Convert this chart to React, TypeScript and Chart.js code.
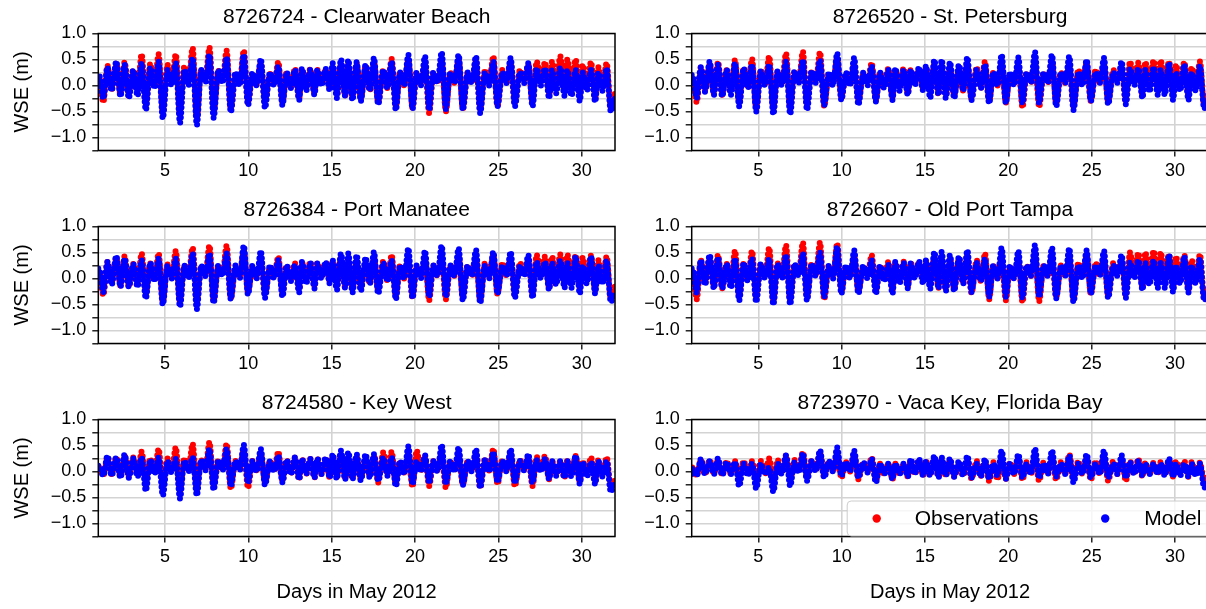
import React, { useEffect, useRef } from "react";
import { Chart, registerables } from "chart.js";

Chart.register(...registerables);

const FONT = "'Liberation Sans', Arial, sans-serif";

// Sample times (days in May 2012) of the tidal turning points
const TIMES = [
  1.0,
  1.05, 1.30, 1.55, 1.80,
  2.08, 2.33, 2.58, 2.83,
  3.10, 3.35, 3.60, 3.85,
  4.12, 4.37, 4.62, 4.87,
  5.15, 5.40, 5.65, 5.90,
  6.16, 6.41, 6.66, 6.91,
  7.17, 7.42, 7.67, 7.92,
  8.20, 8.45, 8.70, 8.95,
  9.23, 9.48, 9.73, 9.98,
  10.25, 10.50, 10.75, 11.00,
  11.30, 11.55, 11.80, 12.05,
  12.30, 12.55, 12.80, 13.05,
  13.22, 13.47, 13.72, 13.97,
  14.14, 14.39, 14.64, 14.89,
  15.06, 15.31, 15.56, 15.81,
  16.00, 16.25, 16.50, 16.75,
  17.04, 17.29, 17.54, 17.79,
  18.10, 18.35, 18.60, 18.85,
  19.10, 19.35, 19.60, 19.85,
  20.10, 20.35, 20.60, 20.85,
  21.10, 21.35, 21.60, 21.85,
  22.12, 22.37, 22.62, 22.87,
  23.16, 23.41, 23.66, 23.91,
  24.20, 24.45, 24.70, 24.95,
  25.24, 25.49, 25.74, 25.99,
  26.30, 26.55, 26.80, 27.05,
  27.30, 27.55, 27.80, 28.05,
  28.22, 28.47, 28.72, 28.97,
  29.14, 29.39, 29.64, 29.89,
  30.06, 30.31, 30.56, 30.81,
  31.00, 31.25, 31.50, 31.75,
  32.0,
];

// 8726724 - Clearwater Beach
const CLEARWATER_OBS = [
  0.10,
  0.15, -0.32, 0.38, -0.08,
  0.43, -0.18, 0.45, -0.20,
  0.30, -0.08, 0.60, -0.38,
  0.42, 0.00, 0.60, -0.50,
  0.40, 0.05, 0.60, -0.56,
  0.37, 0.10, 0.72, -0.62,
  0.30, 0.12, 0.73, -0.50,
  0.28, 0.10, 0.67, -0.47,
  0.22, 0.05, 0.67, -0.34,
  0.20, 0.02, 0.43, -0.32,
  0.22, 0.05, 0.45, -0.32,
  0.25, -0.05, 0.33, -0.25,
  0.30, 0.00, 0.32, -0.15,
  0.30, 0.05, 0.30, -0.05,
  0.35, -0.05, 0.40, -0.20,
  0.40, -0.20, 0.42, -0.25,
  0.38, -0.10, 0.45, -0.33,
  0.30, -0.05, 0.51, -0.40,
  0.25, 0.00, 0.50, -0.43,
  0.25, 0.05, 0.45, -0.53,
  0.25, 0.05, 0.46, -0.50,
  0.25, 0.05, 0.50, -0.45,
  0.25, 0.05, 0.50, -0.47,
  0.30, 0.05, 0.56, -0.40,
  0.30, 0.05, 0.45, -0.35,
  0.30, 0.10, 0.40, -0.33,
  0.46, 0.10, 0.45, -0.20,
  0.46, 0.05, 0.56, -0.10,
  0.50, 0.05, 0.50, -0.20,
  0.40, 0.00, 0.45, -0.25,
  0.35, 0.00, 0.43, -0.42,
  -0.15,
];
const CLEARWATER_MOD = [
  0.14,
  0.20, -0.25, 0.35, -0.10,
  0.46, -0.21, 0.40, -0.24,
  0.30, -0.20, 0.43, -0.47,
  0.35, -0.05, 0.46, -0.63,
  0.30, 0.00, 0.43, -0.72,
  0.30, 0.00, 0.53, -0.76,
  0.30, 0.05, 0.59, -0.62,
  0.30, 0.05, 0.54, -0.51,
  0.25, 0.00, 0.59, -0.38,
  0.25, 0.00, 0.51, -0.43,
  0.25, 0.00, 0.37, -0.38,
  0.25, -0.05, 0.30, -0.28,
  0.33, -0.10, 0.30, -0.18,
  0.30, 0.00, 0.32, -0.10,
  0.43, -0.24, 0.50, -0.20,
  0.49, -0.28, 0.45, -0.30,
  0.40, -0.10, 0.53, -0.36,
  0.30, -0.05, 0.46, -0.47,
  0.25, 0.00, 0.59, -0.45,
  0.25, 0.00, 0.56, -0.47,
  0.25, 0.05, 0.64, -0.45,
  0.25, 0.05, 0.59, -0.47,
  0.25, 0.05, 0.56, -0.53,
  0.25, 0.00, 0.46, -0.40,
  0.25, 0.05, 0.53, -0.40,
  0.25, 0.05, 0.43, -0.40,
  0.33, 0.00, 0.33, -0.24,
  0.30, -0.15, 0.35, -0.20,
  0.30, -0.20, 0.30, -0.30,
  0.25, -0.10, 0.30, -0.31,
  0.25, -0.10, 0.33, -0.50,
  -0.25,
];

// 8726520 - St. Petersburg
const STPETE_OBS = [
  0.15,
  0.15, -0.32, 0.35, -0.10,
  0.40, -0.15, 0.45, -0.18,
  0.30, -0.08, 0.49, -0.32,
  0.33, -0.02, 0.51, -0.44,
  0.30, 0.02, 0.56, -0.44,
  0.27, 0.05, 0.62, -0.44,
  0.24, 0.08, 0.65, -0.37,
  0.27, 0.08, 0.64, -0.40,
  0.20, 0.05, 0.53, -0.25,
  0.20, 0.02, 0.40, -0.30,
  0.22, 0.05, 0.43, -0.28,
  0.25, -0.02, 0.33, -0.22,
  0.30, 0.00, 0.33, -0.15,
  0.30, 0.05, 0.30, -0.05,
  0.33, -0.05, 0.40, -0.18,
  0.30, -0.18, 0.35, -0.18,
  0.30, -0.10, 0.40, -0.25,
  0.35, -0.05, 0.46, -0.31,
  0.25, 0.00, 0.40, -0.33,
  0.22, 0.05, 0.37, -0.42,
  0.25, 0.05, 0.43, -0.41,
  0.25, 0.05, 0.46, -0.34,
  0.25, 0.05, 0.40, -0.40,
  0.30, 0.05, 0.43, -0.30,
  0.30, 0.05, 0.40, -0.31,
  0.30, 0.10, 0.33, -0.31,
  0.46, 0.10, 0.44, -0.20,
  0.45, 0.05, 0.48, -0.10,
  0.48, 0.05, 0.46, -0.18,
  0.40, 0.00, 0.45, -0.22,
  0.35, 0.00, 0.46, -0.38,
  -0.15,
];
const STPETE_MOD = [
  0.20,
  0.20, -0.24, 0.35, -0.12,
  0.46, -0.18, 0.40, -0.21,
  0.30, -0.18, 0.43, -0.40,
  0.33, -0.05, 0.40, -0.50,
  0.28, 0.00, 0.40, -0.55,
  0.28, 0.00, 0.46, -0.55,
  0.28, 0.05, 0.49, -0.47,
  0.28, 0.05, 0.49, -0.38,
  0.25, 0.00, 0.62, -0.28,
  0.25, 0.00, 0.53, -0.37,
  0.25, 0.00, 0.37, -0.31,
  0.25, -0.05, 0.30, -0.28,
  0.33, -0.10, 0.30, -0.18,
  0.30, 0.00, 0.35, -0.10,
  0.38, -0.24, 0.49, -0.18,
  0.49, -0.24, 0.45, -0.24,
  0.40, -0.10, 0.54, -0.28,
  0.30, -0.05, 0.40, -0.34,
  0.25, 0.00, 0.59, -0.34,
  0.25, 0.00, 0.54, -0.34,
  0.25, 0.05, 0.64, -0.34,
  0.25, 0.05, 0.59, -0.40,
  0.25, 0.05, 0.56, -0.47,
  0.25, 0.00, 0.49, -0.30,
  0.25, 0.05, 0.53, -0.36,
  0.25, 0.05, 0.46, -0.36,
  0.33, 0.00, 0.33, -0.24,
  0.30, -0.12, 0.35, -0.18,
  0.30, -0.18, 0.43, -0.28,
  0.25, -0.10, 0.40, -0.28,
  0.25, -0.10, 0.38, -0.44,
  -0.25,
];

// 8726384 - Port Manatee
const MANATEE_OBS = [
  0.12,
  0.15, -0.32, 0.32, -0.08,
  0.40, -0.14, 0.43, -0.16,
  0.28, -0.08, 0.48, -0.29,
  0.29, -0.02, 0.48, -0.45,
  0.27, 0.02, 0.53, -0.45,
  0.25, 0.05, 0.59, -0.48,
  0.20, 0.08, 0.63, -0.42,
  0.25, 0.08, 0.63, -0.38,
  0.20, 0.05, 0.54, -0.26,
  0.20, 0.02, 0.38, -0.30,
  0.22, 0.05, 0.42, -0.28,
  0.25, -0.02, 0.29, -0.22,
  0.30, 0.00, 0.32, -0.15,
  0.30, 0.05, 0.29, -0.05,
  0.33, -0.05, 0.40, -0.18,
  0.29, -0.19, 0.33, -0.19,
  0.29, -0.10, 0.40, -0.22,
  0.33, -0.05, 0.45, -0.35,
  0.25, 0.00, 0.35, -0.37,
  0.22, 0.05, 0.35, -0.42,
  0.25, 0.05, 0.38, -0.40,
  0.25, 0.05, 0.42, -0.35,
  0.25, 0.05, 0.38, -0.42,
  0.30, 0.05, 0.45, -0.30,
  0.30, 0.05, 0.38, -0.32,
  0.30, 0.10, 0.35, -0.32,
  0.45, 0.10, 0.42, -0.18,
  0.42, 0.05, 0.46, -0.10,
  0.46, 0.05, 0.45, -0.18,
  0.40, 0.00, 0.44, -0.22,
  0.35, 0.00, 0.42, -0.38,
  -0.15,
];
const MANATEE_MOD = [
  0.19,
  0.19, -0.26, 0.32, -0.12,
  0.43, -0.16, 0.38, -0.16,
  0.28, -0.16, 0.35, -0.38,
  0.30, -0.05, 0.38, -0.50,
  0.25, 0.00, 0.38, -0.54,
  0.25, 0.00, 0.48, -0.59,
  0.25, 0.05, 0.48, -0.47,
  0.25, 0.05, 0.48, -0.40,
  0.25, 0.00, 0.63, -0.31,
  0.25, 0.00, 0.53, -0.37,
  0.25, 0.00, 0.35, -0.35,
  0.25, -0.05, 0.26, -0.27,
  0.32, -0.10, 0.30, -0.19,
  0.29, 0.00, 0.32, -0.10,
  0.35, -0.22, 0.48, -0.18,
  0.48, -0.27, 0.45, -0.24,
  0.40, -0.10, 0.51, -0.29,
  0.30, -0.05, 0.35, -0.40,
  0.25, 0.00, 0.58, -0.38,
  0.25, 0.00, 0.53, -0.35,
  0.25, 0.05, 0.63, -0.35,
  0.25, 0.05, 0.58, -0.42,
  0.25, 0.05, 0.55, -0.47,
  0.25, 0.00, 0.51, -0.29,
  0.25, 0.05, 0.51, -0.37,
  0.25, 0.05, 0.45, -0.37,
  0.32, 0.00, 0.32, -0.22,
  0.30, -0.12, 0.35, -0.18,
  0.30, -0.18, 0.42, -0.29,
  0.25, -0.10, 0.42, -0.29,
  0.25, -0.10, 0.35, -0.45,
  -0.25,
];

// 8726607 - Old Port Tampa
const TAMPA_OBS = [
  0.15,
  0.15, -0.40, 0.35, -0.10,
  0.40, -0.16, 0.45, -0.19,
  0.28, -0.08, 0.53, -0.35,
  0.29, -0.02, 0.53, -0.40,
  0.29, 0.02, 0.59, -0.45,
  0.29, 0.05, 0.64, -0.44,
  0.25, 0.08, 0.69, -0.35,
  0.29, 0.08, 0.69, -0.40,
  0.22, 0.05, 0.67, -0.26,
  0.20, 0.02, 0.42, -0.25,
  0.22, 0.05, 0.45, -0.25,
  0.25, -0.02, 0.32, -0.22,
  0.30, 0.00, 0.32, -0.15,
  0.30, 0.05, 0.30, -0.05,
  0.33, -0.05, 0.40, -0.18,
  0.30, -0.20, 0.38, -0.20,
  0.38, -0.10, 0.45, -0.28,
  0.35, -0.05, 0.48, -0.40,
  0.25, 0.00, 0.38, -0.42,
  0.22, 0.05, 0.35, -0.45,
  0.25, 0.05, 0.42, -0.44,
  0.25, 0.05, 0.42, -0.36,
  0.25, 0.05, 0.38, -0.40,
  0.30, 0.05, 0.45, -0.30,
  0.30, 0.05, 0.38, -0.33,
  0.30, 0.10, 0.35, -0.33,
  0.50, 0.10, 0.49, -0.18,
  0.50, 0.05, 0.53, -0.10,
  0.50, 0.05, 0.46, -0.18,
  0.42, 0.00, 0.45, -0.22,
  0.35, 0.00, 0.46, -0.38,
  -0.15,
];
const TAMPA_MOD = [
  0.19,
  0.19, -0.27, 0.35, -0.12,
  0.45, -0.19, 0.40, -0.19,
  0.28, -0.18, 0.38, -0.42,
  0.30, -0.05, 0.38, -0.45,
  0.28, 0.00, 0.38, -0.50,
  0.28, 0.00, 0.45, -0.50,
  0.28, 0.05, 0.48, -0.42,
  0.28, 0.05, 0.50, -0.35,
  0.25, 0.00, 0.61, -0.29,
  0.25, 0.00, 0.54, -0.29,
  0.25, 0.00, 0.35, -0.29,
  0.25, -0.05, 0.26, -0.29,
  0.32, -0.10, 0.30, -0.19,
  0.29, 0.00, 0.33, -0.10,
  0.35, -0.20, 0.51, -0.19,
  0.51, -0.24, 0.45, -0.24,
  0.42, -0.10, 0.54, -0.26,
  0.30, -0.05, 0.38, -0.35,
  0.25, 0.00, 0.59, -0.35,
  0.25, 0.00, 0.53, -0.37,
  0.25, 0.05, 0.64, -0.35,
  0.25, 0.05, 0.59, -0.38,
  0.25, 0.05, 0.58, -0.45,
  0.25, 0.00, 0.54, -0.29,
  0.25, 0.05, 0.53, -0.37,
  0.25, 0.05, 0.45, -0.37,
  0.32, 0.00, 0.35, -0.22,
  0.30, -0.12, 0.35, -0.18,
  0.30, -0.18, 0.45, -0.26,
  0.25, -0.10, 0.42, -0.27,
  0.25, -0.10, 0.38, -0.42,
  -0.25,
];

// 8724580 - Key West
const KEYWEST_OBS = [
  0.05,
  0.10, -0.08, 0.28, -0.05,
  0.27, -0.10, 0.30, -0.10,
  0.27, -0.05, 0.38, -0.18,
  0.25, -0.02, 0.43, -0.31,
  0.25, 0.02, 0.46, -0.37,
  0.25, 0.05, 0.53, -0.34,
  0.22, 0.05, 0.56, -0.28,
  0.22, 0.05, 0.53, -0.33,
  0.20, 0.05, 0.43, -0.31,
  0.20, 0.02, 0.33, -0.21,
  0.20, 0.02, 0.38, -0.18,
  0.22, -0.05, 0.27, -0.15,
  0.24, -0.05, 0.24, -0.12,
  0.25, -0.05, 0.25, -0.12,
  0.30, -0.10, 0.33, -0.14,
  0.24, -0.12, 0.28, -0.15,
  0.22, -0.08, 0.30, -0.21,
  0.37, -0.05, 0.38, -0.25,
  0.20, -0.02, 0.24, -0.29,
  0.40, 0.02, 0.30, -0.28,
  0.20, 0.02, 0.33, -0.31,
  0.20, 0.02, 0.30, -0.25,
  0.20, 0.02, 0.33, -0.31,
  0.25, 0.02, 0.43, -0.24,
  0.22, 0.02, 0.33, -0.28,
  0.22, 0.05, 0.27, -0.28,
  0.28, 0.05, 0.30, -0.15,
  0.20, -0.05, 0.20, -0.12,
  0.22, -0.05, 0.30, -0.20,
  0.20, -0.05, 0.27, -0.20,
  0.22, -0.05, 0.27, -0.30,
  -0.15,
];
const KEYWEST_MOD = [
  0.11,
  0.11, -0.08, 0.30, -0.08,
  0.27, -0.12, 0.33, -0.12,
  0.25, -0.10, 0.27, -0.37,
  0.22, -0.05, 0.27, -0.46,
  0.20, -0.02, 0.24, -0.52,
  0.20, 0.00, 0.27, -0.46,
  0.22, 0.02, 0.43, -0.35,
  0.22, 0.02, 0.43, -0.28,
  0.20, 0.02, 0.51, -0.22,
  0.20, 0.00, 0.43, -0.26,
  0.20, 0.00, 0.30, -0.21,
  0.22, -0.05, 0.27, -0.15,
  0.24, -0.05, 0.24, -0.12,
  0.25, -0.05, 0.27, -0.12,
  0.33, -0.14, 0.40, -0.15,
  0.37, -0.15, 0.33, -0.17,
  0.33, -0.12, 0.33, -0.18,
  0.27, -0.08, 0.27, -0.28,
  0.20, -0.05, 0.48, -0.24,
  0.20, 0.00, 0.31, -0.22,
  0.20, 0.00, 0.51, -0.24,
  0.20, 0.00, 0.46, -0.26,
  0.20, 0.00, 0.43, -0.31,
  0.22, 0.00, 0.37, -0.20,
  0.20, 0.00, 0.43, -0.22,
  0.20, 0.02, 0.33, -0.22,
  0.22, 0.00, 0.24, -0.15,
  0.20, -0.08, 0.20, -0.12,
  0.20, -0.10, 0.30, -0.24,
  0.18, -0.10, 0.18, -0.24,
  0.20, -0.10, 0.20, -0.39,
  -0.20,
];

// 8723970 - Vaca Key, Florida Bay
const VACA_OBS = [
  -0.02,
  0.10, -0.08, 0.22, -0.05,
  0.22, -0.04, 0.22, -0.07,
  0.20, -0.05, 0.20, -0.10,
  0.20, -0.05, 0.20, -0.12,
  0.20, -0.05, 0.25, -0.18,
  0.22, -0.02, 0.31, -0.15,
  0.22, 0.00, 0.37, -0.12,
  0.22, 0.02, 0.37, -0.10,
  0.20, 0.02, 0.32, -0.12,
  0.18, 0.00, 0.30, -0.15,
  0.18, 0.00, 0.27, -0.18,
  0.15, -0.05, 0.15, -0.15,
  0.15, -0.05, 0.14, -0.10,
  0.22, -0.05, 0.22, -0.08,
  0.20, -0.06, 0.25, -0.10,
  0.22, -0.08, 0.22, -0.10,
  0.15, -0.08, 0.20, -0.14,
  0.20, -0.08, 0.20, -0.18,
  0.18, -0.15, 0.20, -0.14,
  0.18, -0.05, 0.24, -0.16,
  0.18, -0.05, 0.24, -0.18,
  0.18, -0.05, 0.30, -0.16,
  0.18, -0.05, 0.33, -0.14,
  0.20, -0.05, 0.24, -0.16,
  0.20, -0.05, 0.30, -0.18,
  0.20, -0.05, 0.24, -0.18,
  0.20, -0.05, 0.24, -0.10,
  0.17, -0.05, 0.17, -0.05,
  0.18, -0.05, 0.22, -0.10,
  0.20, -0.05, 0.20, -0.10,
  0.18, -0.05, 0.17, -0.18,
  -0.10,
];
const VACA_MOD = [
  -0.05,
  0.05, -0.08, 0.24, -0.05,
  0.20, -0.05, 0.25, -0.07,
  0.18, -0.05, 0.18, -0.28,
  0.15, -0.08, 0.15, -0.33,
  0.15, -0.05, 0.08, -0.39,
  0.15, -0.05, 0.31, -0.28,
  0.18, -0.02, 0.35, -0.18,
  0.20, 0.00, 0.41, -0.12,
  0.20, 0.00, 0.46, -0.08,
  0.18, 0.00, 0.40, -0.12,
  0.18, -0.02, 0.24, -0.21,
  0.15, -0.05, 0.15, -0.15,
  0.15, -0.05, 0.15, -0.10,
  0.24, -0.05, 0.24, -0.08,
  0.20, -0.08, 0.30, -0.12,
  0.27, -0.08, 0.25, -0.10,
  0.20, -0.08, 0.30, -0.12,
  0.15, -0.10, 0.24, -0.14,
  0.15, -0.08, 0.40, -0.14,
  0.15, -0.05, 0.33, -0.12,
  0.15, -0.05, 0.44, -0.12,
  0.15, -0.05, 0.40, -0.10,
  0.15, -0.05, 0.30, -0.21,
  0.15, -0.05, 0.33, -0.12,
  0.15, -0.05, 0.40, -0.12,
  0.15, -0.05, 0.31, -0.12,
  0.18, -0.05, 0.20, -0.08,
  0.15, -0.05, 0.15, -0.05,
  0.15, -0.08, 0.25, -0.10,
  0.15, -0.08, 0.15, -0.10,
  0.15, -0.08, 0.15, -0.31,
  -0.20,
];

const TITLES = [
  "8726724 - Clearwater Beach",
  "8726520 - St. Petersburg",
  "8726384 - Port Manatee",
  "8726607 - Old Port Tampa",
  "8724580 - Key West",
  "8723970 - Vaca Key, Florida Bay",
];
const OBS_SERIES = [CLEARWATER_OBS, STPETE_OBS, MANATEE_OBS, TAMPA_OBS, KEYWEST_OBS, VACA_OBS];
const MOD_SERIES = [CLEARWATER_MOD, STPETE_MOD, MANATEE_MOD, TAMPA_MOD, KEYWEST_MOD, VACA_MOD];
const SERIES_NAMES = ["Observations", "Model"];
const SERIES_COLORS = ["#ff0000", "#0000ff"];

const X_MIN = 1;
const X_MAX = 32;
const X_TICKS = [5, 10, 15, 20, 25, 30];
const Y_MIN = -1.25;
const Y_MAX = 1.0;
const Y_GRID = [-1.25, -1.0, -0.75, -0.5, -0.25, 0, 0.25, 0.5, 0.75, 1.0];
const Y_LABEL_VALUES = [-1.0, -0.5, 0.0, 0.5, 1.0];
const Y_LABEL_TEXT = ["\u22121.0", "\u22120.5", "0.0", "0.5", "1.0"];
const X_TITLE = "Days in May 2012";
const Y_TITLE = "WSE (m)";

// layout
const COLS = [
  { left: 0, width: 630, axisW: 98.3, padR: 15 },
  { left: 615, width: 610, axisW: 76.7, padR: 16.7 },
];
const ROWS = [
  { top: 0, height: 193 },
  { top: 193, height: 193 },
  { top: 386, height: 223 },
];
const PAD_TOP = 33.5;
const PLOT_H = 117;

const framePlugin = {
  id: "frame",
  afterDraw(chart: any, _args: any, opts: any) {
    const { ctx, chartArea: ca } = chart;
    ctx.save();
    ctx.fillStyle = "#000";
    ctx.font = `21px ${FONT}`;
    ctx.textAlign = "center";
    ctx.textBaseline = "middle";
    ctx.fillText(opts.title, (ca.left + ca.right) / 2, ca.top - 16);
    ctx.strokeStyle = "#000";
    ctx.lineWidth = 1.5;
    ctx.strokeRect(ca.left, ca.top, ca.right - ca.left, ca.bottom - ca.top);
    if (opts.legend) {
      const bx = ca.left + 155.5;
      const by = ca.top + 81.5;
      ctx.beginPath();
      ctx.roundRect(bx, by, 372, 35, 4);
      ctx.fillStyle = "rgba(255,255,255,0.8)";
      ctx.fill();
      ctx.strokeStyle = "#cccccc";
      ctx.lineWidth = 1;
      ctx.stroke();
      const cy = ca.top + 99;
      const entries = [
        { mx: 185, tx: 223 },
        { mx: 413.5, tx: 452.5 },
      ];
      entries.forEach((e, i) => {
        ctx.beginPath();
        ctx.arc(ca.left + e.mx, cy, 4.2, 0, Math.PI * 2);
        ctx.fillStyle = SERIES_COLORS[i];
        ctx.fill();
        ctx.fillStyle = "#000";
        ctx.font = `21px ${FONT}`;
        ctx.textAlign = "left";
        ctx.textBaseline = "middle";
        ctx.fillText(SERIES_NAMES[i], ca.left + e.tx, cy + 1);
      });
    }
    ctx.restore();
  },
};

type PanelProps = { index: number };

function Panel({ index }: PanelProps) {
  const ref = useRef<HTMLCanvasElement>(null);
  const col = COLS[index % 2];
  const row = ROWS[Math.floor(index / 2)];
  const isLeft = index % 2 === 0;
  const isBottom = Math.floor(index / 2) === 2;
  const xAxisH = row.height - PAD_TOP - PLOT_H;

  useEffect(() => {
    const canvas = ref.current!;
    const mk = (vals: number[]) => TIMES.map((t, i) => ({ x: t, y: vals[i] }));
    const lineStyle = {
      borderWidth: 6,
      pointRadius: 0,
      pointHoverRadius: 0,
      pointHitRadius: 0,
      cubicInterpolationMode: "monotone" as const,
      borderCapStyle: "round" as const,
      borderJoinStyle: "round" as const,
      borderDash: [0, 5],
      fill: false,
    };
    const chart = new Chart(canvas, {
      type: "line",
      data: {
        datasets: [
          {
            label: SERIES_NAMES[0],
            data: mk(OBS_SERIES[index]),
            borderColor: SERIES_COLORS[0],
            backgroundColor: SERIES_COLORS[0],
            order: 2,
            ...lineStyle,
          },
          {
            label: SERIES_NAMES[1],
            data: mk(MOD_SERIES[index]),
            borderColor: SERIES_COLORS[1],
            backgroundColor: SERIES_COLORS[1],
            order: 1,
            ...lineStyle,
          },
        ],
      },
      options: {
        animation: false,
        responsive: false,
        devicePixelRatio: 1,
        events: [],
        layout: { padding: { top: PAD_TOP, right: col.padR, left: 0, bottom: 0 } },
        plugins: {
          legend: { display: false },
          tooltip: { enabled: false },
          title: { display: false },
          frame: { title: TITLES[index], legend: index === 5 },
        } as any,
        scales: {
          x: {
            type: "linear",
            min: X_MIN,
            max: X_MAX,
            afterBuildTicks: (s: any) => {
              s.ticks = X_TICKS.map((v) => ({ value: v }));
            },
            afterFit: (s: any) => {
              s.height = xAxisH;
            },
            grid: {
              color: "#d3d3d3",
              lineWidth: 1.6,
              drawTicks: true,
              tickLength: 6,
              tickColor: "#000",
              tickWidth: 1.3,
            },
            border: { display: false },
            ticks: {
              color: "#000",
              font: { family: FONT, size: 18 },
              padding: 4,
              maxRotation: 0,
              autoSkip: false,
              callback: (v: any) => String(v),
            },
            title: {
              display: isBottom,
              text: X_TITLE,
              color: "#000",
              font: { family: FONT, size: 20 },
              padding: { top: 0, bottom: 5 },
            },
          },
          y: {
            type: "linear",
            min: Y_MIN,
            max: Y_MAX,
            afterBuildTicks: (s: any) => {
              s.ticks = Y_GRID.map((v) => ({ value: v }));
            },
            afterFit: (s: any) => {
              s.width = col.axisW;
            },
            grid: {
              color: "#d3d3d3",
              lineWidth: 1.6,
              drawTicks: true,
              tickLength: 6,
              tickColor: "#000",
              tickWidth: 1.3,
            },
            border: { display: false },
            ticks: {
              color: "#000",
              font: { family: FONT, size: 18 },
              padding: 6,
              autoSkip: false,
              callback: (v: any) => {
                const i = Y_LABEL_VALUES.findIndex((t) => Math.abs(t - Number(v)) < 1e-6);
                return i >= 0 ? Y_LABEL_TEXT[i] : "";
              },
            },
            title: {
              display: isLeft,
              text: Y_TITLE,
              color: "#000",
              font: { family: FONT, size: 20 },
              padding: { top: 10, bottom: 0 },
            },
          },
        },
      },
      plugins: [framePlugin],
    } as any);
    return () => chart.destroy();
  }, [index]);

  return (
    <canvas
      ref={ref}
      width={col.width}
      height={row.height}
      style={{
        position: "absolute",
        left: col.left,
        top: row.top,
        width: col.width,
        height: row.height,
      }}
    />
  );
}

export default function App() {
  return (
    <div
      style={{
        position: "fixed",
        left: 0,
        top: 0,
        width: 1206,
        height: 609,
        overflow: "hidden",
        background: "#fff",
      }}
    >
      {TITLES.map((_, i) => (
        <Panel key={i} index={i} />
      ))}
    </div>
  );
}
